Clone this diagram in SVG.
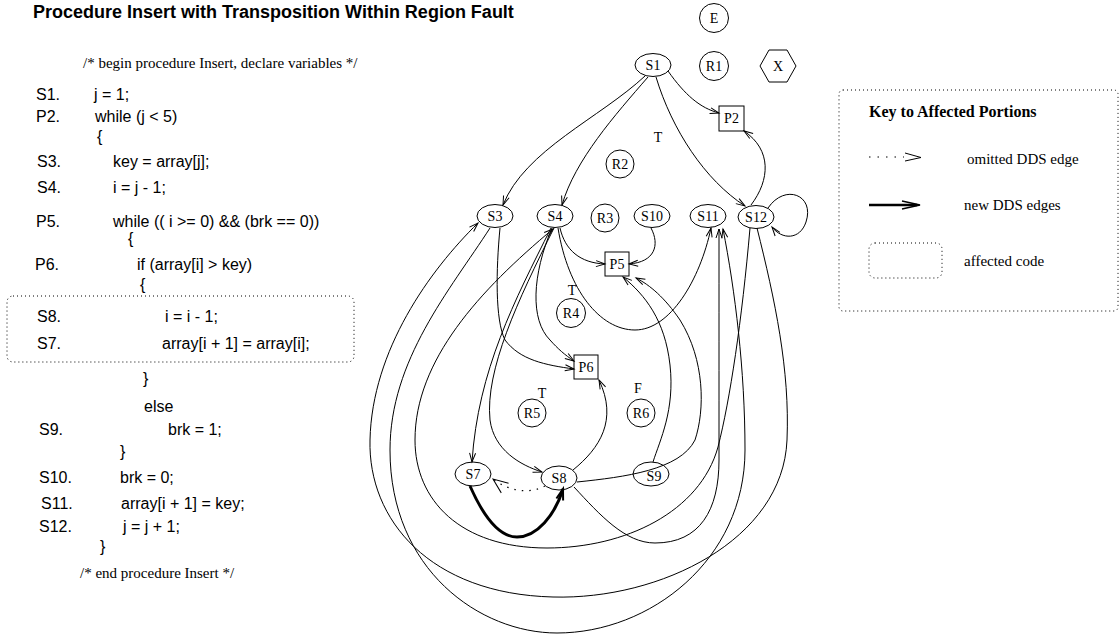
<svg xmlns="http://www.w3.org/2000/svg" width="1119" height="634" viewBox="0 0 1119 634">
  <style>
    .title { font-family: "Liberation Sans", Arial, sans-serif; font-weight: bold; font-size: 18px; }
    .code { font-family: "Liberation Sans", Arial, sans-serif; font-size: 16px; }
    .cmt { font-family: "Liberation Serif", "Times New Roman", serif; font-size: 15px; }
    .lbl { font-family: "Liberation Serif", "Times New Roman", serif; font-size: 14px; text-anchor: middle; }
    .key { font-family: "Liberation Serif", "Times New Roman", serif; font-size: 15px; }
    .keyt { font-family: "Liberation Serif", "Times New Roman", serif; font-size: 16px; font-weight: bold; }
    .shape { fill: none; stroke: #000; stroke-width: 1; }
    .edge { fill: none; stroke: #000; stroke-width: 1; marker-end: url(#arr); }
    .thick { fill: none; stroke: #000; stroke-width: 3; marker-end: url(#arrThick); }
    .omit { fill: none; stroke: #000; stroke-width: 1.2; stroke-dasharray: 1.5 6; marker-end: url(#arrOmit); }
    .dotbox { fill: none; stroke: #000; stroke-width: 1; stroke-dasharray: 1 3; }
  </style>
  <defs>
    <marker id="arr" markerUnits="userSpaceOnUse" markerWidth="12" markerHeight="10" refX="10" refY="4" orient="auto" overflow="visible">
      <path d="M1,1 L10,4 L1,7" fill="none" stroke="#000" stroke-width="1"/>
    </marker>
    <marker id="arrThick" markerUnits="userSpaceOnUse" markerWidth="14" markerHeight="10" refX="11" refY="4" orient="auto" overflow="visible">
      <path d="M0,0.5 L11,4 L0,7.5" fill="none" stroke="#000" stroke-width="2"/>
    </marker>
    <marker id="arrOmit" markerUnits="userSpaceOnUse" markerWidth="16" markerHeight="14" refX="15" refY="6" orient="auto" overflow="visible">
      <path d="M0,0 L15,6 L0,12" fill="none" stroke="#000" stroke-width="1"/>
    </marker>
  </defs>

  <rect width="1119" height="634" fill="#fff"/>

  <!-- title and source listing -->
  <text class="title" x="33" y="18">Procedure Insert with Transposition Within Region Fault</text>
  <g id="listing">
    <text class="cmt" x="83" y="68">/* begin procedure Insert, declare variables */</text>
    <text class="code" x="36" y="100">S1.</text><text class="code" x="94" y="100">j = 1;</text>
    <text class="code" x="36" y="122">P2.</text><text class="code" x="95" y="122">while (j  &lt; 5)</text>
    <text class="code" x="97" y="142">{</text>
    <text class="code" x="37" y="167">S3.</text><text class="code" x="113" y="167">key = array[j];</text>
    <text class="code" x="37" y="193">S4.</text><text class="code" x="113" y="193">i = j - 1;</text>
    <text class="code" x="36" y="227">P5.</text><text class="code" x="113" y="227">while (( i &gt;= 0) &amp;&amp; (brk == 0))</text>
    <text class="code" x="128" y="244">{</text>
    <text class="code" x="35" y="270">P6.</text><text class="code" x="137" y="270">if (array[i] &gt; key)</text>
    <text class="code" x="140" y="290">{</text>
    <rect class="dotbox" x="7" y="296" width="347" height="66" rx="6"/>
    <text class="code" x="37" y="322">S8.</text><text class="code" x="165" y="322">i = i - 1;</text>
    <text class="code" x="37" y="349">S7.</text><text class="code" x="162" y="349">array[i + 1] = array[i];</text>
    <text class="code" x="143" y="384">}</text>
    <text class="code" x="144" y="412">else</text>
    <text class="code" x="39" y="435">S9.</text><text class="code" x="168" y="435">brk = 1;</text>
    <text class="code" x="120" y="457">}</text>
    <text class="code" x="39" y="483">S10.</text><text class="code" x="120" y="483">brk = 0;</text>
    <text class="code" x="41" y="509">S11.</text><text class="code" x="121" y="509">array[i + 1] = key;</text>
    <text class="code" x="39" y="532">S12.</text><text class="code" x="123" y="532">j = j + 1;</text>
    <text class="code" x="100" y="552">}</text>
    <text class="cmt" x="80" y="578">/*  end procedure Insert */</text>
  </g>

  <!-- connectors -->
  <g id="connectors">
    <path class="edge" d="M645,76 C600,118 525,150 503,205"/>
    <path class="edge" d="M648,77 C615,115 575,160 562,205"/>
    <path class="edge" d="M656,77 C672,130 705,180 745,206"/>
    <path class="edge" d="M668,71 C685,95 700,108 719,113"/>
    <path class="edge" d="M751,205 C770,180 772,150 744,131"/>
    <path class="edge" d="M768,208 C785,183 815,195 806,222 C800,240 782,240 772,227"/>
    <path class="edge" d="M560,228 C565,250 580,263 605,264"/>
    <path class="edge" d="M651,228 C660,245 655,262 629,264"/>
    <path class="edge" d="M558,228 C568,290 600,330 635,330 C670,330 700,280 711,228"/>
    <path class="edge" d="M552,228 C532,275 530,320 550,340 C558,349 565,355 574,361"/>
    <path class="edge" d="M500,228 C496,270 495,320 505,340 C520,360 545,365 574,369"/>
    <path class="edge" d="M573,470 C600,448 618,420 599,380"/>
    <path class="edge" d="M551,228 C515,300 478,370 472,462"/>
    <path class="edge" d="M554,228 C518,300 485,370 490,420 C494,450 520,465 542,472"/>
    <path class="edge" d="M577,482 C625,477 680,470 695,440 C705,410 705,360 680,320 C665,298 650,285 636,278"/>
    <path class="edge" d="M653,462 C660,440 675,410 670,365 C665,320 645,295 623,277"/>
    <path class="edge" d="M757,228 C775,300 790,370 787,440 C783,540 660,600 553,597 C430,594 368,520 370,440 C372,350 430,270 478,223"/>
    <path class="edge" d="M490,228 C450,290 390,360 390,450 C390,570 480,633 557,633 C650,633 745,560 745,450 C745,370 735,290 723,229"/>
    <path class="edge" d="M750,228 C742,320 730,400 718,447 C700,512 625,548 547,548 C460,548 415,500 415,440 C415,360 480,290 553,229"/>
    <path class="edge" d="M574,487 C600,515 625,543 655,543 C700,543 719,510 719,460 C719,380 719,300 719,229"/>
    <path class="thick" d="M470,486 C485,520 500,537 517,537 C537,537 555,515 563,489"/>
    <path class="omit" d="M545,486 C530,494 510,492 493,479"/>
  </g>

  <!-- nodes -->
  <g id="E"><circle class="shape" cx="714" cy="18" r="14.5"/><text class="lbl" x="714" y="23">E</text></g>
  <g id="S1"><ellipse class="shape" cx="653" cy="65" rx="18" ry="11.5"/><text class="lbl" x="653" y="70">S1</text></g>
  <g id="R1"><circle class="shape" cx="714" cy="66" r="14.5"/><text class="lbl" x="714" y="71">R1</text></g>
  <g id="X"><polygon class="shape" points="760,66 769,50 787,50 796,66 787,82 769,82"/><text class="lbl" x="778" y="71">X</text></g>
  <g id="P2"><rect class="shape" x="719" y="106" width="25" height="25"/><text class="lbl" x="731.5" y="123">P2</text></g>
  <text class="lbl" x="658" y="142">T</text>
  <g id="R2"><circle class="shape" cx="620" cy="164" r="14"/><text class="lbl" x="620" y="169">R2</text></g>
  <g id="S3"><ellipse class="shape" cx="495" cy="216" rx="18" ry="11.5"/><text class="lbl" x="495" y="221">S3</text></g>
  <g id="S4"><ellipse class="shape" cx="555" cy="216" rx="18" ry="11.5"/><text class="lbl" x="555" y="221">S4</text></g>
  <g id="R3"><circle class="shape" cx="605" cy="218" r="14"/><text class="lbl" x="605" y="223">R3</text></g>
  <g id="S10"><ellipse class="shape" cx="652" cy="216" rx="18" ry="11.5"/><text class="lbl" x="652" y="221">S10</text></g>
  <g id="S11"><ellipse class="shape" cx="708" cy="216" rx="18" ry="11.5"/><text class="lbl" x="708" y="221">S11</text></g>
  <g id="S12"><ellipse class="shape" cx="756" cy="217" rx="18" ry="11.5"/><text class="lbl" x="756" y="222">S12</text></g>
  <g id="P5"><rect class="shape" x="605" y="252" width="24" height="24"/><text class="lbl" x="617" y="269">P5</text></g>
  <text class="lbl" x="572" y="295">T</text>
  <g id="R4"><circle class="shape" cx="571" cy="313" r="14.5"/><text class="lbl" x="571" y="318">R4</text></g>
  <g id="P6"><rect class="shape" x="574" y="355" width="24" height="24"/><text class="lbl" x="586" y="372">P6</text></g>
  <text class="lbl" x="542" y="398">T</text>
  <g id="R5"><circle class="shape" cx="532" cy="413" r="14"/><text class="lbl" x="532" y="418">R5</text></g>
  <text class="lbl" x="638" y="393">F</text>
  <g id="R6"><circle class="shape" cx="641" cy="413" r="14"/><text class="lbl" x="641" y="418">R6</text></g>
  <g id="S7"><ellipse class="shape" cx="473" cy="474" rx="18" ry="12"/><text class="lbl" x="473" y="479">S7</text></g>
  <g id="S8"><ellipse class="shape" cx="559" cy="478" rx="18" ry="12"/><text class="lbl" x="559" y="483">S8</text></g>
  <g id="S9"><ellipse class="shape" cx="651" cy="474" rx="18" ry="12"/><text class="lbl" x="654" y="481">S9</text></g>

  <!-- key -->
  <g id="key">
    <rect class="dotbox" x="839" y="90" width="279" height="221" rx="4"/>
    <text class="keyt" x="869" y="117">Key to Affected Portions</text>
    <line x1="869" y1="157" x2="904" y2="157" stroke="#000" stroke-width="1.2" stroke-dasharray="1.5 7"/>
    <polyline points="905,153 921,157.5 905,161" fill="none" stroke="#000" stroke-width="1"/>
    <text class="key" x="967" y="164">omitted DDS edge</text>
    <line x1="869" y1="205" x2="917" y2="205" stroke="#000" stroke-width="2.5"/>
    <polyline points="902,201 920,205 902,209" fill="none" stroke="#000" stroke-width="1.5"/>
    <text class="key" x="964" y="210">new DDS edges</text>
    <rect class="dotbox" x="869" y="243" width="73" height="35" rx="6"/>
    <text class="key" x="964" y="266">affected code</text>
  </g>
</svg>
